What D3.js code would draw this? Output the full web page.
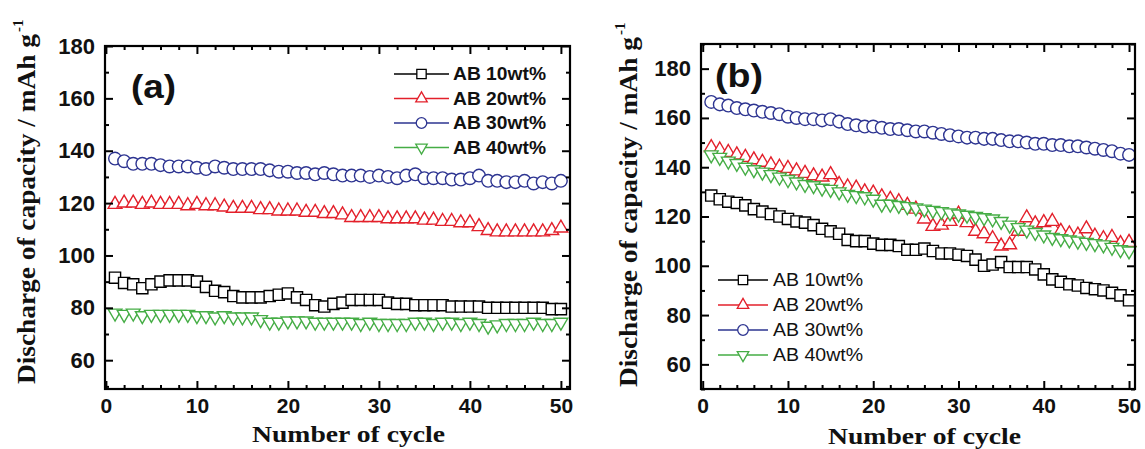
<!DOCTYPE html>
<html><head><meta charset="utf-8">
<script src="https://cdn.jsdelivr.net/npm/d3@7"></script>
<style>body{margin:0;background:#fff;} svg{display:block;background:#fff}</style>
</head><body><svg id="c" width="1145" height="449"></svg>
<script>
// ---------- DATA ----------
const cycles = [1,2,3,4,5,6,7,8,9,10,11,12,13,14,15,16,17,18,19,20,21,22,23,24,25,26,27,28,29,30,31,32,33,34,35,36,37,38,39,40,41,42,43,44,45,46,47,48,49,50];
const seriesNames = ["AB 10wt%","AB 20wt%","AB 30wt%","AB 40wt%"];

// panel (a)
const a10 = [91.5,89.5,89,87.5,89,90,90.5,90.5,90.5,90, 88,86.5,86,84.5,84,84,84,84.5,85,85.5, 84,83,81,80.5,81.5,82,83,83,83,83, 82,81.5,81.5,81,81,81,81,80.5,80.5,80.5, 80.5,80,80,80,80,80,80,80,79.5,79.5];
const a20 = [119.5,120,120,119.5,120,119.5,119.5,119.5,119,119.5, 119,119,118.5,118,118,118,117.5,117.5,117,117, 117,116.5,116.5,116,116,115.5,114.5,114.5,114.5,114.5, 114,114,114,114,113.5,113.5,113,113,112.5,112.5, 111,109.5,109,109,109,109,109,109,109.5,110.5];
const a30 = [137,136,135,135,135,134.5,134,134,134,133.5, 133,134,133.5,133,133,133,133,132.5,132,132, 131.5,131.5,131,131.5,131,130.5,130.5,130.5,130,130.5, 130,129.5,130.5,131,129.5,129.5,129.5,129,129,129.5, 130.5,128.5,128.5,128,128,128.5,127.5,128,127.5,128.5];
const a40 = [78,77.5,78,77,77.5,77.5,77.5,77.5,77.5,77, 77,76.5,77,76.5,76.5,76.5,75.5,74.5,74.5,75, 75,75,74.5,74.5,74.5,74.5,74.5,74,74.5,74, 74,74,74,74.5,74.5,74,74.5,74.5,74,74.5, 74,73,73.5,74,74,74,74.5,74,74,74.5];

// panel (b)
const b10 = [128.5,127,126,125.5,124.5,123,122,121,120,119, 118,117.5,116.5,115,114,113,110.5,110,110,109, 108.5,108.5,108,106.5,106.5,107,106,105,105,104.5, 104,102.5,100,100.5,101.5,99.5,99.5,99.5,98.5,96.5, 94.5,93.5,92.5,92,91,90.5,90,89,88,86];
const b20 = [148,147,146,145,144,143,142,141,140,139.5, 138.5,137.5,136.5,136,137,133,132,131.5,130,129.5, 128,127,126,124.5,123,119,116,116.5,118,121, 117.5,114,113,111,108,108.5,114,119.5,117,117.5, 118,114,113,112.5,115,112,111,111.5,109,109.5];
const b30 = [166.5,165.5,165,164,163.5,163,162.5,162,161.5,160.5, 160,159.5,159.5,159,159.5,158.5,157.5,157,156.5,156.5, 156,155.5,155.5,155,154.5,154.5,154,153.5,153,152.5, 152,152,151.5,151.5,151,150.5,150.5,150,149.5,149.5, 149,149,148.5,148.5,148,147.5,147,146.5,145.5,145];
const b40 = [145,144,142.5,141.5,140,139,138,137,136,135, 134,133,132.5,131.5,131,130,129,128.5,128,127, 125,125,124.5,124,123.5,123,122.5,122,121.5,121, 120.5,120,119.5,119,118,116.5,115.5,114.5,113.5,112.5, 111.5,111,110.5,110,109.5,109,108.5,107.5,106.5,106];

const xTickValues = [0,10,20,30,40,50];
const xMinorValues = [2,4,6,8,12,14,16,18,22,24,26,28,32,34,36,38,42,44,46,48];
const yTickValues = [60,80,100,120,140,160,180];
const yMinorA = [50,70,90,110,130,150,170];
const yMinorB = [50,70,90,110,130,150,170,190];
const panelLabels = ["(a)","(b)"];
const xTitle = "Number of cycle";
const yTitle = "Discharge of capacity / mAh g";
const yTitleSup = "-1";

// ---------- STYLE ----------
const colors = ["#000000","#e3202b","#2d3491","#45ad45"];
const symTypes = [d3.symbolSquare, d3.symbolTriangle, d3.symbolCircle, d3.symbolTriangle];
const symSizes = [125, 82, 125, 82];
const symRot = [0, 0, 0, 180];
const SANS = "'Liberation Sans', Arial, Helvetica, sans-serif";
const SERIF = "'Liberation Serif', 'Times New Roman', serif";

const svg = d3.select("#c");

const panels = [
  {label: panelLabels[0], series: [a10,a20,a30,a40],
   x0:105, x1:570, y0:46, y1:389, xd:[-0.1,51], yd:[49,180], yMinor: yMinorA,
   legend:{x1:394, x2:449, mx:421.5, tx:453, ty:74, dy:24.5, tw:93, fs:18, fw:"bold"},
   lab:{x:131, y:98, tw:45}, yTitleX:35, yTitleY:384, xTitleX:252, xTitleY:442},
  {label: panelLabels[1], series: [b10,b20,b30,b40],
   x0:701, x1:1135, y0:44, y1:389, xd:[-0.2,50.7], yd:[50,190], yMinor: yMinorB,
   legend:{x1:718, x2:768, mx:743, tx:773, ty:280, dy:25, tw:90, fs:18, fw:"normal"},
   lab:{x:715, y:87, tw:48}, yTitleX:637, yTitleY:387, xTitleX:828, xTitleY:444}
];

function drawPanel(cfg) {
  const x = d3.scaleLinear().domain(cfg.xd).range([cfg.x0, cfg.x1]);
  const y = d3.scaleLinear().domain(cfg.yd).range([cfg.y1, cfg.y0]);
  const g = svg.append("g");

  // series
  cfg.series.forEach((vals, i) => {
    const pts = cycles.map((c, j) => [c, vals[j]]);
    g.append("path")
      .attr("d", d3.line().x(d => x(d[0])).y(d => y(d[1]))(pts))
      .attr("fill", "none").attr("stroke", colors[i]).attr("stroke-width", 1.2);
    g.append("g").selectAll("path").data(pts).join("path")
      .attr("transform", d => `translate(${x(d[0])},${y(d[1])}) rotate(${symRot[i]})`)
      .attr("d", d3.symbol(symTypes[i], symSizes[i]))
      .attr("fill", "#fff").attr("stroke", colors[i]).attr("stroke-width", 1.4);
  });

  // axes
  function axis(gen, tv, size, labeled, tr, fs, pad) {
    const a = g.append("g").attr("transform", tr)
      .call(gen.tickValues(tv).tickSize(size).tickPadding(labeled ? pad : 0)
        .tickFormat(labeled ? d3.format("d") : () => ""));
    a.select(".domain").remove();
    a.selectAll("line").attr("stroke", "#000").attr("stroke-width", 2);
    a.attr("font-family", SANS).attr("font-size", fs || 22).attr("font-weight", "bold");
    a.selectAll("text").attr("fill", "#111");
    return a;
  }
  axis(d3.axisBottom(x), xTickValues, -8, true, `translate(0,${cfg.y1})`, 21, 9);
  axis(d3.axisBottom(x), xMinorValues, -4, false, `translate(0,${cfg.y1})`);
  axis(d3.axisTop(x), xTickValues, -8, false, `translate(0,${cfg.y0})`);
  axis(d3.axisTop(x), xMinorValues, -4, false, `translate(0,${cfg.y0})`);
  axis(d3.axisLeft(y), yTickValues, -8, true, `translate(${cfg.x0},0)`, 22, 10);
  axis(d3.axisLeft(y), cfg.yMinor, -4, false, `translate(${cfg.x0},0)`);
  axis(d3.axisRight(y), yTickValues, -8, false, `translate(${cfg.x1},0)`);
  axis(d3.axisRight(y), cfg.yMinor, -4, false, `translate(${cfg.x1},0)`);

  // frame
  g.append("rect").attr("x", cfg.x0).attr("y", cfg.y0)
    .attr("width", cfg.x1 - cfg.x0).attr("height", cfg.y1 - cfg.y0)
    .attr("fill", "none").attr("stroke", "#000").attr("stroke-width", 2.2);

  // panel label
  g.append("text").attr("x", cfg.lab.x).attr("y", cfg.lab.y)
    .attr("font-family", SANS).attr("font-weight", "bold").attr("font-size", 34)
    .attr("textLength", cfg.lab.tw).attr("lengthAdjust", "spacingAndGlyphs")
    .attr("fill", "#111").text(cfg.label);

  // legend
  const L = cfg.legend;
  seriesNames.forEach((name, i) => {
    const yy = L.ty + i * L.dy;
    g.append("line").attr("x1", L.x1).attr("x2", L.x2).attr("y1", yy).attr("y2", yy)
      .attr("stroke", colors[i]).attr("stroke-width", 1.4);
    g.append("path").attr("transform", `translate(${L.mx},${yy}) rotate(${symRot[i]})`)
      .attr("d", d3.symbol(symTypes[i], symSizes[i] * 0.7))
      .attr("fill", "#fff").attr("stroke", colors[i]).attr("stroke-width", 1.3);
    g.append("text").attr("x", L.tx).attr("y", yy).attr("dy", "0.36em")
      .attr("font-family", SANS).attr("font-size", L.fs).attr("font-weight", L.fw)
      .attr("textLength", L.tw).attr("lengthAdjust", "spacingAndGlyphs")
      .attr("fill", "#111").text(name);
  });

  // x title
  g.append("text").attr("x", cfg.xTitleX).attr("y", cfg.xTitleY)
    .attr("font-family", SERIF).attr("font-weight", "bold").attr("font-size", 23)
    .attr("textLength", 193).attr("lengthAdjust", "spacingAndGlyphs")
    .attr("fill", "#111").text(xTitle);

  // y title
  const yt = g.append("text")
    .attr("transform", `translate(${cfg.yTitleX},${cfg.yTitleY}) rotate(-90)`)
    .attr("font-family", SERIF).attr("font-weight", "bold").attr("font-size", 26)
    .attr("fill", "#111");
  yt.append("tspan").attr("textLength", 350).attr("lengthAdjust", "spacingAndGlyphs").text(yTitle);
  yt.append("tspan").attr("dy", -12).attr("dx", 2).attr("font-size", 15).text(yTitleSup);
}

panels.forEach(drawPanel);
</script>
</body></html>
